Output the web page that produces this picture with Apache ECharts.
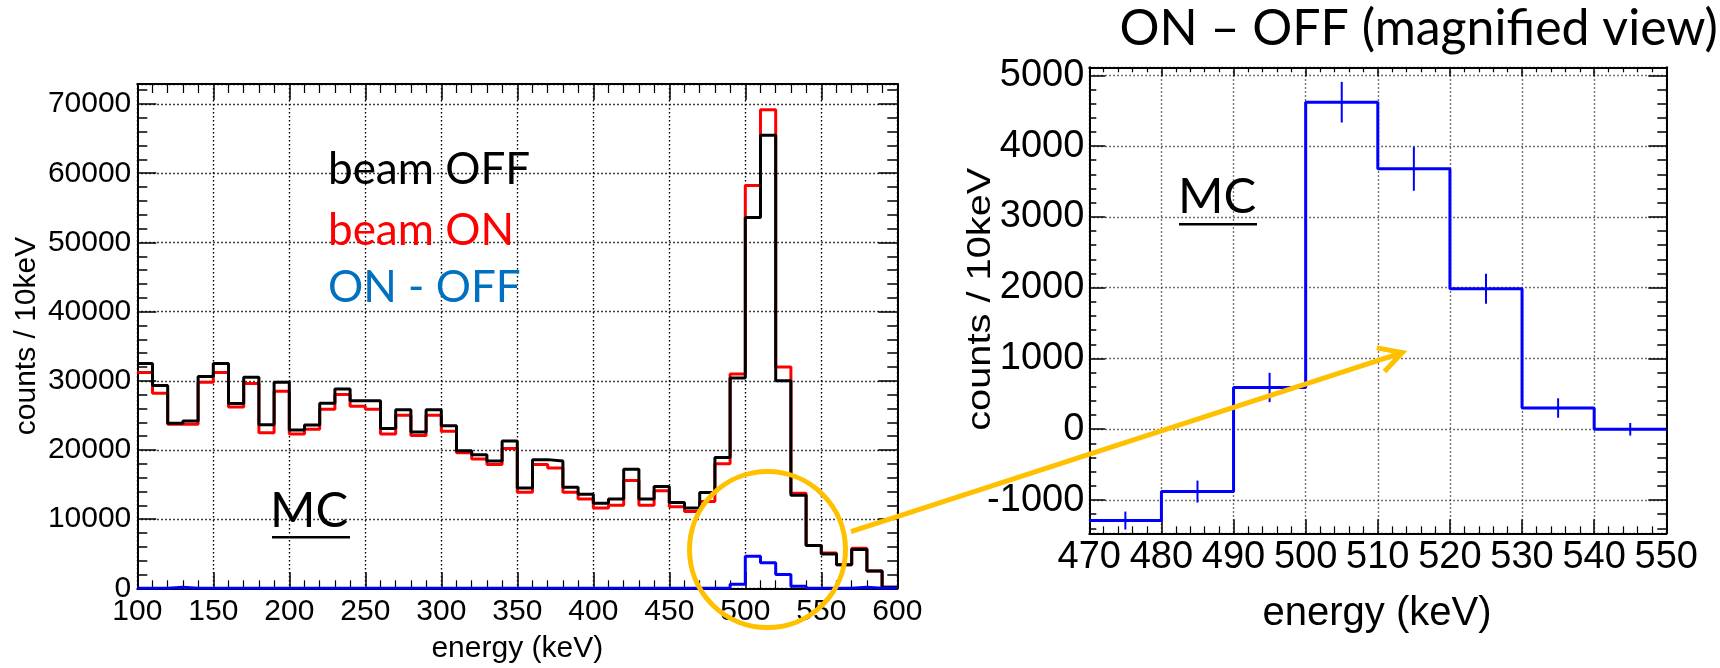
<!DOCTYPE html>
<html>
<head>
<meta charset="utf-8">
<script src="https://cdn.jsdelivr.net/npm/echarts@6/dist/echarts.min.js"></script>
<style>
  html, body { margin: 0; padding: 0; background: #fff; }
  #chart { width: 1720px; height: 668px; }
</style>
</head>
<body>
<div id="chart"></div>
<script>
// ---- data: counts per 10 keV bin, bins start at 100 keV ----
const binLow = 100;
const binWidth = 10;

const beamOff = [
  32500, 29300, 23850, 24200, 30600, 32500, 26700, 30500, 23650, 29800,
  22900, 23600, 26750, 28800, 27100, 27100, 23100, 25800, 22600, 25800,
  23500, 19900, 19300, 18400, 21300, 14500, 18600, 18400, 14600, 13600,
  12300, 12900, 17200, 12900, 14700, 12400, 11600, 13850, 18900, 30400,
  53600, 65500, 30000, 13450, 6200, 4950, 3400, 5600, 2500, 150
];
const beamOn = [
  31200, 28200, 23700, 23700, 29800, 31200, 26200, 29600, 22500, 28500,
  22300, 23000, 25900, 28000, 26300, 25900, 22300, 25000, 22100, 25000,
  22700, 19600, 18700, 17900, 20200, 13900, 17900, 17400, 13900, 12900,
  11600, 12000, 15600, 12000, 14100, 11800, 11100, 12560, 18020, 30990,
  58220, 69180, 31980, 13750, 6200, 5100, 3400, 5800, 2500, 150
];
const onMinusOff = [
  0, 0, 150, 0, 0, 0, 0, 0, 0, 0,
  0, 0, 0, 0, 0, 0, 0, 0, 0, 0,
  0, 0, 0, 0, 0, 0, 0, 0, 0, 0,
  0, 0, 0, 0, 0, 0, 0, -1290, -880, 590,
  4620, 3680, 1985, 300, 0, 0, 0, 150, 0, 0
];

// magnified window 470-550 keV and its statistical errors
const zoomLow = 470;
const zoomHigh = 550;
const zoomErr = [127, 155, 207, 287, 311, 212, 137, 89];

// annotation anchors (data coordinates)
const circleCenter = [514.6, 5600];
const arrowFrom = [569.5, 8190];
const arrowTo = [513.4, 1082];

// ---- helpers ----
function stepPoints(low, values) {
  const pts = values.map((v, i) => [low + i * binWidth, v]);
  pts.push([low + values.length * binWidth, values[values.length - 1]]);
  return pts;
}
const zFirst = (zoomLow - binLow) / binWidth;
const zoomVals = onMinusOff.slice(zFirst, zFirst + (zoomHigh - zoomLow) / binWidth);
const wideDiff = onMinusOff.map(v => Math.max(0, v)); // left axis starts at 0

const AX = '"Liberation Sans", Arial, sans-serif';
const SANS = 'Lato, "Open Sans", sans-serif';
const plain = v => String(v);

const chart = echarts.init(document.getElementById('chart'), null, { renderer: 'canvas' });

function frameX(grid, min, max, interval, pos, showLabel, major, minor, split, fs, margin, splitColor) {
  return {
    type: 'value', gridIndex: grid, position: pos, min, max, interval,
    axisLine: { show: true, onZero: false, lineStyle: { color: '#000', width: 2 } },
    axisTick: { show: true, inside: true, length: major, lineStyle: { color: '#000', width: 1.5 } },
    minorTick: { show: true, splitNumber: 5, length: minor, lineStyle: { color: '#000', width: 1.2 } },
    axisLabel: { show: showLabel, fontSize: fs, fontFamily: AX, color: '#000', margin, formatter: plain },
    splitLine: { show: split, lineStyle: { color: splitColor, width: 1.4, type: [1.5, 2.5] } },
    minorSplitLine: { show: false }
  };
}
function frameY(grid, min, max, splitNumber, pos, showLabel, tickLen, lineShow, split, fs, margin, splitColor) {
  return {
    type: 'value', gridIndex: grid, position: pos, min, max, splitNumber,
    axisLine: { show: lineShow, onZero: false, lineStyle: { color: '#000', width: 2 } },
    axisTick: { show: true, inside: true, length: tickLen, lineStyle: { color: '#000', width: 1.5 } },
    axisLabel: { show: showLabel, fontSize: fs, fontFamily: AX, color: '#000', margin, formatter: plain,
                 showMinLabel: min === 0, showMaxLabel: false },
    splitLine: { show: split, lineStyle: { color: splitColor, width: 1.4, type: [1.5, 2.5] } }
  };
}

const option = {
  animation: false,
  backgroundColor: '#fff',
  grid: [
    { left: 137.3, top: 84, width: 760, height: 504.3 },
    { left: 1089.3, top: 67.3, width: 577, height: 466 }
  ],
  xAxis: [
    frameX(0, 100, 600, 50, 'bottom', true, 16, 8, true, 30, 8, '#000'),
    frameX(0, 100, 600, 50, 'top', false, 16, 9, false, 30, 8, '#000'),
    frameX(1, zoomLow, zoomHigh, 10, 'bottom', true, 14, 7, true, 38, 5, '#444'),
    frameX(1, zoomLow, zoomHigh, 10, 'top', false, 9, 5, false, 38, 5, '#444')
  ],
  yAxis: [
    frameY(0, 0, 72900, 7, 'left', true, 19, true, true, 30, 6, '#000'),
    frameY(0, 0, 72900, 7, 'right', false, 19, true, false, 30, 6, '#000'),
    frameY(0, 0, 72900, 36, 'left', false, 10, false, false, 30, 6, '#000'),
    frameY(0, 0, 72900, 36, 'right', false, 10, false, false, 30, 6, '#000'),
    frameY(1, -1470, 5113, 6, 'left', true, 16, true, true, 38, 5, '#444'),
    frameY(1, -1470, 5113, 6, 'right', false, 18, true, false, 38, 5, '#444'),
    frameY(1, -1470, 5113, 33, 'left', false, 7, false, false, 38, 5, '#444'),
    frameY(1, -1470, 5113, 33, 'right', false, 9, false, false, 38, 5, '#444')
  ],
  series: [
    { name: 'beam ON', type: 'line', step: 'end', xAxisIndex: 0, yAxisIndex: 0,
      data: stepPoints(binLow, beamOn), showSymbol: false, symbol: 'none', z: 2,
      lineStyle: { color: '#ff0000', width: 3 }, silent: true },
    { name: 'beam OFF', type: 'line', step: 'end', xAxisIndex: 0, yAxisIndex: 0,
      data: stepPoints(binLow, beamOff), showSymbol: false, symbol: 'none', z: 3,
      lineStyle: { color: '#000', width: 3 }, silent: true },
    { name: 'ON - OFF', type: 'line', step: 'end', xAxisIndex: 0, yAxisIndex: 0,
      data: stepPoints(binLow, wideDiff), showSymbol: false, symbol: 'none', z: 4,
      lineStyle: { color: '#0000ff', width: 3 }, silent: true },
    { name: 'ON - OFF zoom', type: 'line', step: 'end', xAxisIndex: 2, yAxisIndex: 4,
      data: stepPoints(zoomLow, zoomVals), showSymbol: false, symbol: 'none', z: 4,
      lineStyle: { color: '#0000ff', width: 3 }, silent: true },
    { name: 'errors', type: 'custom', xAxisIndex: 2, yAxisIndex: 4, z: 5, silent: true,
      data: zoomVals.map((v, i) => [zoomLow + (i + 0.5) * binWidth, v - zoomErr[i], v + zoomErr[i]]),
      encode: { x: 0, y: [1, 2] },
      renderItem: function (params, api) {
        const a = api.coord([api.value(0), api.value(1)]);
        const b = api.coord([api.value(0), api.value(2)]);
        return { type: 'line', shape: { x1: a[0], y1: a[1], x2: b[0], y2: b[1] },
                 style: { stroke: '#0000ff', lineWidth: 2 } };
      } }
  ]
};
chart.setOption(option);

// ---- text and annotations ----
function label(text, x, y, font, color, align, extra) {
  return Object.assign({
    type: 'text', x, y, z: 50,
    style: { text, x: 0, y: 0, font, fill: color, align: align || 'left', verticalAlign: 'middle' }
  }, extra || {});
}

const lp = (pt) => chart.convertToPixel({ xAxisIndex: 0, yAxisIndex: 0 }, pt);
const rp = (pt) => chart.convertToPixel({ xAxisIndex: 2, yAxisIndex: 4 }, pt);
const c = lp(circleCenter);
const p0 = lp(arrowFrom);
const p1 = rp(arrowTo);
const dx = p1[0] - p0[0], dy = p1[1] - p0[1];
const len = Math.hypot(dx, dy);
const bx = -dx / len, by = -dy / len;
function rot(ang, l) {
  const ca = Math.cos(ang), sa = Math.sin(ang);
  return [p1[0] + l * (bx * ca - by * sa), p1[1] + l * (bx * sa + by * ca)];
}
const headA = rot(0.5, 26);
const headB = rot(-0.5, 26);
const gold = '#ffc000';

chart.setOption({
  graphic: [
    label('beam OFF', 328, 169.5, '44px ' + SANS, '#000'),
    label('beam ON', 328, 230.8, '44px ' + SANS, '#ff0000'),
    label('ON - OFF', 328, 287.8, '44px ' + SANS, '#0070c0'),
    label('MC', 270, 511.6, '49px ' + SANS, '#000'),
    { type: 'line', z: 50, shape: { x1: 272, y1: 537.3, x2: 350, y2: 537.3 }, style: { stroke: '#000', lineWidth: 2.5 } },
    label('MC', 1178, 197.6, '49px ' + SANS, '#000'),
    { type: 'line', z: 50, shape: { x1: 1179, y1: 224.3, x2: 1257, y2: 224.3 }, style: { stroke: '#000', lineWidth: 2.5 } },
    label('ON \u2013 OFF (magnified view)', 1119.5, 28.8, '50px ' + SANS, '#000'),
    label('energy (keV)', 517.3, 648.6, '30px ' + AX, '#000', 'center'),
    label('counts / 10keV', 27.1, 336, '30px ' + AX, '#000', 'center', { rotation: Math.PI / 2 }),
    label('energy (keV)', 1377, 614.4, '40px ' + AX, '#000', 'center'),
    label('counts / 10keV', 980.9, 299.2, '34px ' + AX, '#000', 'center', { rotation: Math.PI / 2, scaleX: 1.17 }),
    { type: 'circle', z: 60, shape: { cx: c[0], cy: c[1], r: 78 },
      style: { fill: 'none', stroke: gold, lineWidth: 5 } },
    { type: 'line', z: 60, shape: { x1: p0[0], y1: p0[1], x2: p1[0], y2: p1[1] },
      style: { stroke: gold, lineWidth: 5 } },
    { type: 'polyline', z: 60, shape: { points: [headA, p1, headB] },
      style: { fill: 'none', stroke: gold, lineWidth: 5, lineJoin: 'miter' } }
  ]
});
</script>
</body>
</html>
